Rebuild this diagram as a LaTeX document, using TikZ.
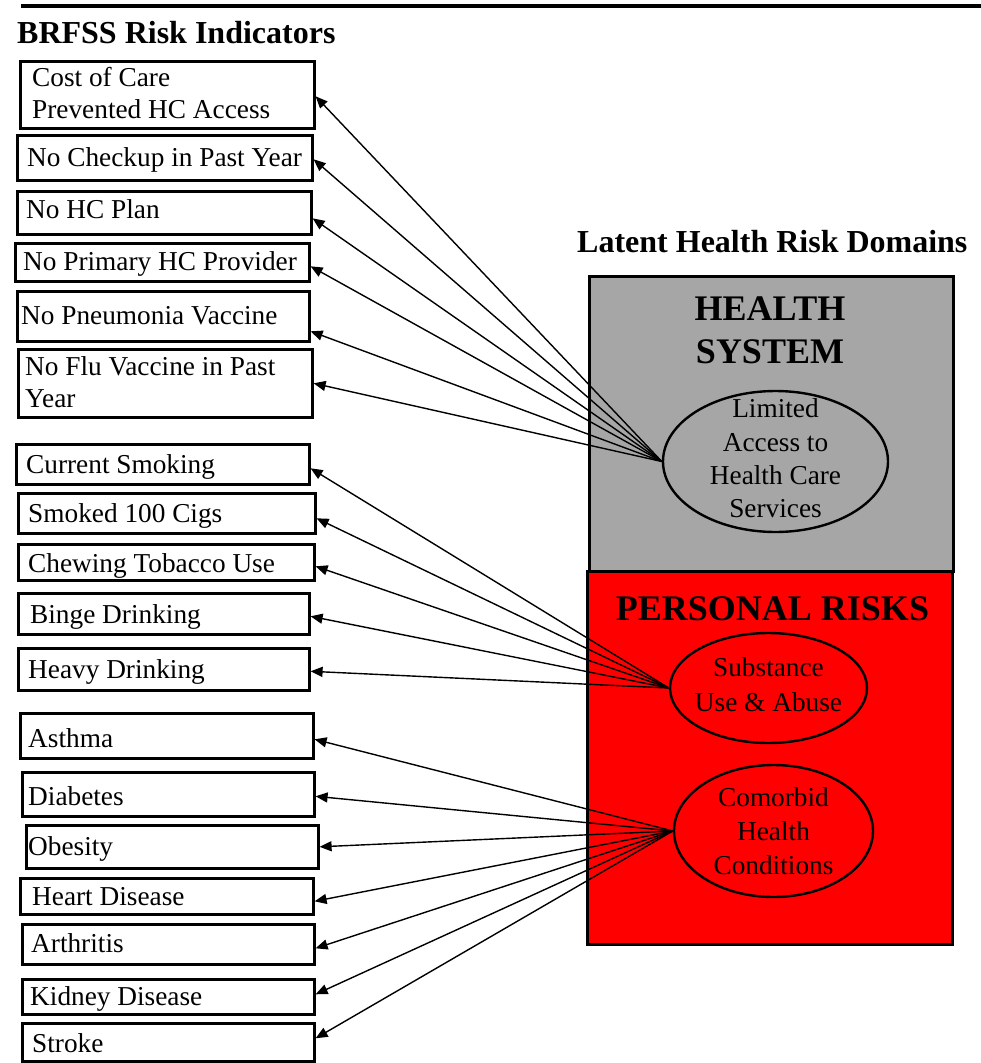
\documentclass[tikz,border=0pt]{standalone}
\usepackage{fontspec}
\setmainfont{Liberation Serif}
\usetikzlibrary{shapes.geometric,arrows.meta}
\definecolor{hsgray}{RGB}{166,166,166}
\definecolor{prred}{RGB}{255,0,0}
\newcommand\lbox[9]{% name, x1, y1, x2, y2, anchor, tx, ty, text
  \node[box, minimum width=#4-#2, minimum height=#5-#3, anchor=north west] (#1) at (#2,#3) {};
  \node[btxt, anchor=#6] (#1t) at (#7,#8) {#9};
}
\begin{document}
\begin{tikzpicture}[x=1pt,y=-1pt,
  box/.style={draw, line width=2.6pt, inner sep=0pt},
  btxt/.style={inner sep=0pt, align=left, font=\fontsize{27.3}{32}\selectfont},
  lat/.style={draw, ellipse, line width=2.4pt, inner sep=0pt},
  ltxt/.style={inner sep=0pt, align=center},
  arr/.style={line width=1.4pt, -{Triangle[length=12pt,width=10pt]}},
  head/.style={inner sep=0pt, font=\fontsize{32}{38}\selectfont\bfseries},
  dom/.style={inner sep=0pt, font=\fontsize{36}{43}\selectfont\bfseries},
  dombox/.style={draw, line width=2.6pt, inner sep=0pt, anchor=north west},
]
\fill[white] (0,0) rectangle (981,1063);
\useasboundingbox (0,0) rectangle (981,1063);

% top rule
\draw[line width=4pt] (21,6) -- (981,6);

% headings
\node[head, anchor=base west] (brfss) at (17,43) {BRFSS Risk Indicators};
\node[head, anchor=base west] (lhrd) at (577,252) {Latent Health Risk Domains};

% domain boxes
\node[dombox, fill=hsgray, minimum width=364, minimum height=295] (hsys) at (588,275) {};
\node[dombox, fill=prred, minimum width=365, minimum height=373] (pers) at (586,570) {};
\node[dom, anchor=base] (hs1) at (770,320) {HEALTH};
\node[dom, anchor=base] (hs2) at (770,363) {SYSTEM};
\node[dom, anchor=base] (prt) at (772.5,620) {PERSONAL RISKS};

% latent ellipses
\node[lat, minimum width=225, minimum height=141] (ha) at (775.5,461.5) {};
\node[ltxt, font=\fontsize{27.3}{33.3}\selectfont] (hat) at ([yshift=3pt]ha.center) {Limited\\Access to\\Health Care\\Services};
\node[lat, minimum width=197, minimum height=110] (su) at (768.5,688) {};
\node[ltxt, font=\fontsize{27.3}{35}\selectfont] (sut) at ([yshift=3pt]su.center) {Substance\\Use \& Abuse};
\node[lat, minimum width=199, minimum height=132] (co) at (773.5,831) {};
\node[ltxt, font=\fontsize{27.3}{34}\selectfont] (cot) at (co.center) {Comorbid\\Health\\Conditions};

% indicator boxes
\lbox{b1}{19}{60}{313}{127}{west}{32}{93.5}{Cost of Care\\Prevented HC Access}
\lbox{b2}{16}{134}{311}{179}{base west}{27}{166}{No Checkup in Past Year}
\lbox{b3}{16}{190}{310}{233}{base west}{26}{218}{No HC Plan}
\lbox{b4}{14}{242}{308}{280}{base west}{23}{270}{No Primary HC Provider}
\lbox{b5}{16}{290}{308}{340}{base west}{21}{324}{No Pneumonia Vaccine}
\lbox{b6}{17}{348}{311}{416}{west}{25}{382}{No Flu Vaccine in Past\\Year}

\lbox{s1}{15}{443}{308}{483}{base west}{26}{473}{Current Smoking}
\lbox{s2}{17}{492}{314}{532}{base west}{28}{522}{Smoked 100 Cigs}
\lbox{s3}{17}{543}{313}{579}{base west}{28}{572}{Chewing Tobacco Use}
\lbox{s4}{17}{592}{308}{633}{base west}{30}{623}{Binge Drinking}
\lbox{s5}{17}{647}{308}{689}{base west}{28}{678}{Heavy Drinking}

\lbox{c1}{19}{712}{312}{757}{base west}{28}{747}{Asthma}
\lbox{c2}{21}{771}{313}{815}{base west}{28}{805}{Diabetes}
\lbox{c3}{25}{824}{317}{867}{base west}{28}{855}{Obesity}
\lbox{c4}{19}{877}{312}{913}{base west}{32}{905}{Heart Disease}
\lbox{c5}{21}{923}{313}{963}{base west}{31}{952}{Arthritis}
\lbox{c6}{21}{978}{313}{1013}{base west}{30}{1005}{Kidney Disease}
\lbox{c7}{21}{1022}{313}{1060}{base west}{32}{1052}{Stroke}

% connectors
\foreach \b/\s in {b1/-1.5, b2/-1.5, b3/-5.5, b4/-4, b5/-15, b6/0}
  \draw[arr] (ha.west) -- ([yshift=\s pt]\b.east);
\foreach \b/\s in {s1/-4, s2/-5, s3/-4, s4/-2.5, s5/-2}
  \draw[arr] (su.west) -- ([yshift=\s pt]\b.east);
\foreach \b/\s in {c1/-3.5, c2/-2, c3/0, c4/-5, c5/-4, c6/2.5, c7/4}
  \draw[arr] (co.west) -- ([yshift=\s pt]\b.east);
\end{tikzpicture}
\end{document}
